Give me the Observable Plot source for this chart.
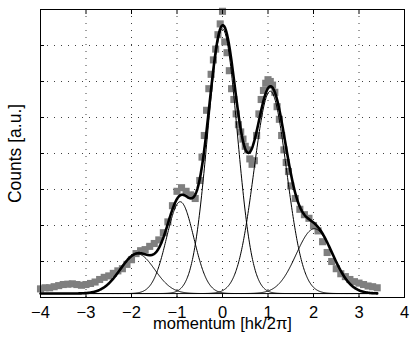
<!DOCTYPE html>
<html>
<head>
<meta charset="utf-8">
<script src="https://cdn.jsdelivr.net/npm/d3@7"></script>
<script src="https://cdn.jsdelivr.net/npm/@observablehq/plot@0.6"></script>
<style>
  html, body { margin: 0; padding: 0; background: #fff; }
  #chart { width: 415px; height: 337px; }
</style>
</head>
<body>
<div id="chart"></div>
<script>
// Measured data (gray squares): momentum and counts [a.u.]
const dataX = [-4.0,-3.9,-3.8,-3.7,-3.6,-3.5,-3.4,-3.3,-3.2,-3.1,-3.0,-2.9,-2.8,-2.7,-2.6,-2.5,-2.4,-2.3,-2.2,-2.1,-2.0,-1.9,-1.8,-1.7,-1.6,-1.5,-1.4,-1.3,-1.2,-1.1,-1.0,-0.9,-0.8,-0.7,-0.6,-0.5,-0.45,-0.4,-0.35,-0.3,-0.25,-0.2,-0.15,-0.1,-0.05,0.0,0.05,0.1,0.15,0.2,0.25,0.3,0.35,0.4,0.45,0.5,0.55,0.6,0.65,0.7,0.75,0.8,0.85,0.9,0.95,1.0,1.05,1.1,1.15,1.2,1.25,1.3,1.35,1.4,1.45,1.5,1.6,1.7,1.8,1.9,2.0,2.1,2.2,2.3,2.4,2.5,2.6,2.7,2.8,2.9,3.0,3.1,3.2,3.3,3.4];
const dataY = [0.24,0.27,0.27,0.30,0.33,0.36,0.37,0.38,0.36,0.34,0.36,0.39,0.43,0.50,0.56,0.60,0.67,0.74,0.80,0.92,1.05,1.22,1.30,1.33,1.42,1.50,1.60,1.80,2.10,2.55,2.95,3.05,2.95,2.85,2.75,3.25,3.9,4.5,5.2,5.8,6.2,6.6,6.9,7.3,7.6,7.95,7.1,6.8,6.3,5.8,5.5,5.1,4.8,4.6,4.4,4.2,4.1,3.85,3.7,3.8,4.5,5.1,5.5,5.75,5.95,6.05,6.0,5.9,5.7,5.3,4.95,4.5,4.1,3.75,3.5,3.1,2.75,2.45,2.3,2.2,2.0,1.85,1.55,1.25,1.0,0.8,0.66,0.58,0.5,0.44,0.40,0.36,0.32,0.30,0.27];

// Fitted Gaussian components
const peakCenters = [-1.87, -0.93, 0.0, 1.05, 2.02];
const peakHeights = [1.1, 2.55, 7.35, 5.62, 1.8];
const peakWidths  = [0.38, 0.30, 0.326, 0.36, 0.40];
const fitBaseline = 0.11;
const fitRange = [-4.0, 3.4];

// Axis ticks
const xTicks = [-4, -3, -2, -1, 0, 1, 2, 3, 4];
const yTicks = [0, 1, 2, 3, 4, 5, 6, 7, 8];

const points = dataX.map((x, i) => ({x, y: dataY[i]}));

const sampleX = d3.range(fitRange[0], fitRange[1] + 1e-9, 0.01);
const comp = (k, x) => peakHeights[k] * Math.exp(-((x - peakCenters[k]) ** 2) / (2 * peakWidths[k] ** 2));
const components = [];
peakCenters.forEach((c, k) => {
  sampleX.forEach(x => components.push({k, x, y: fitBaseline + comp(k, x)}));
});
const total = sampleX.map(x => ({x, y: fitBaseline + peakCenters.reduce((s, c, k) => s + comp(k, x), 0)}));

const fmt = d => d < 0 ? "\u2212" + Math.abs(d) : String(d);

const chart = Plot.plot({
  width: 415,
  height: 337,
  marginLeft: 40,
  marginRight: 11,
  marginTop: 9,
  marginBottom: 40,
  style: {fontFamily: "'Liberation Sans', Arial, Helvetica, sans-serif", fontSize: "16.5px", color: "#000", background: "#fff"},
  x: {domain: [-4, 4]},
  y: {domain: [0, 8]},
  marks: [
    Plot.gridX(xTicks, {stroke: "#000", strokeOpacity: 0.75, strokeDasharray: "1,6"}),
    Plot.gridY(yTicks, {stroke: "#000", strokeOpacity: 0.75, strokeDasharray: "1,6"}),
    Plot.dot(points, {x: "x", y: "y", symbol: "square", r: 4.0, fill: "#7f7f7f", stroke: "none"}),
    Plot.line(components, {x: "x", y: "y", z: "k", stroke: "#000", strokeWidth: 1}),
    Plot.line(total, {x: "x", y: "y", stroke: "#000", strokeWidth: 2.6}),
    Plot.axisX({ticks: xTicks, anchor: "bottom", tickSize: -4, tickPadding: 13, tickFormat: fmt, label: null, fontSize: 16.5}),
    Plot.axisX({ticks: xTicks, anchor: "top", tickSize: -4, tickFormat: () => "", label: null}),
    Plot.axisY({ticks: yTicks, anchor: "left", tickSize: -4, tickFormat: () => "", label: null}),
    Plot.axisY({ticks: yTicks, anchor: "right", tickSize: -4, tickFormat: () => "", label: null}),
    Plot.frame({stroke: "#000", strokeWidth: 1}),
    Plot.text(["momentum [hk/2\u03c0]"], {frameAnchor: "bottom", dy: 31, lineAnchor: "bottom", textAnchor: "middle", text: d => d, fontSize: 16.5, fill: "#000"}),
    Plot.text(["Counts [a.u.]"], {frameAnchor: "left", dx: -20, rotate: -90, lineAnchor: "bottom", textAnchor: "middle", text: d => d, fontSize: 17.5, fill: "#000"})
  ]
});
document.getElementById("chart").appendChild(chart);
</script>
</body>
</html>
